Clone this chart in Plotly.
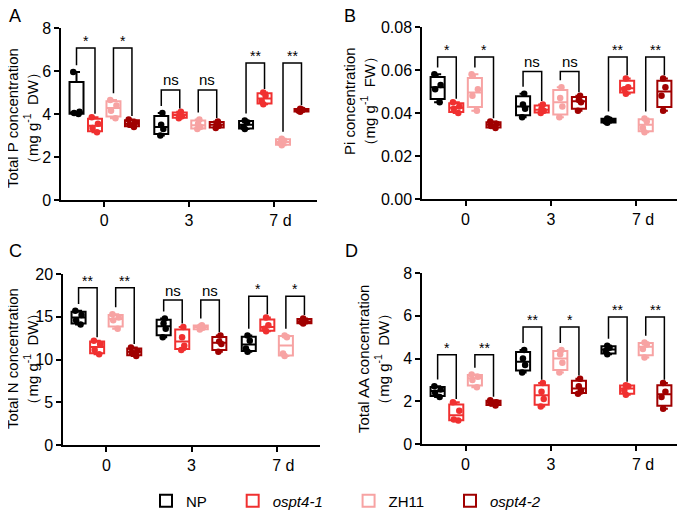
"""Box plots of P, Pi, N and amino acid content in NP / ospt4 / ZH11 lines."""

import numpy as np
import plotly.graph_objects as go

days = ["0", "3", "\u00a0\u00a0\u00a07 d"]
genotypes = ["NP", "<i>ospt4-1</i>", "ZH11", "<i>ospt4-2</i>"]
colors = ["#000000", "#F03030", "#F7A3A3", "#A00000"]

# replicate values per genotype, one list of 4 per day (0, 3, 7 d)
tp_np = [[5.95, 4.10, 4.05, 4.00], [4.05, 3.50, 3.30, 3.00], [3.70, 3.60, 3.40, 3.30]]
tp_ospt41 = [[3.85, 3.55, 3.35, 3.15], [4.10, 4.00, 3.90, 3.80], [5.00, 4.85, 4.60, 4.45]]
tp_zh11 = [[4.65, 4.40, 4.15, 3.80], [3.75, 3.55, 3.40, 3.30], [2.85, 2.75, 2.65, 2.55]]
tp_ospt42 = [[3.75, 3.60, 3.50, 3.40], [3.65, 3.55, 3.45, 3.35], [4.25, 4.20, 4.15, 4.10]]

pi_np = [[0.058, 0.053, 0.051, 0.045], [0.049, 0.044, 0.042, 0.038], [0.0375, 0.037, 0.036, 0.0355]]
pi_ospt41 = [[0.045, 0.043, 0.042, 0.040], [0.044, 0.042, 0.041, 0.040], [0.056, 0.052, 0.051, 0.049]]
pi_zh11 = [[0.058, 0.051, 0.048, 0.041], [0.052, 0.047, 0.043, 0.038], [0.0375, 0.036, 0.033, 0.031]]
pi_ospt42 = [[0.036, 0.035, 0.034, 0.033], [0.048, 0.046, 0.045, 0.041], [0.056, 0.052, 0.048, 0.041]]

tn_np = [[15.7, 15.2, 14.6, 14.1], [14.8, 14.2, 13.6, 12.6], [12.8, 12.2, 11.3, 10.9]]
tn_ospt41 = [[12.2, 11.8, 11.1, 10.6], [13.8, 12.6, 11.6, 11.1], [14.9, 14.0, 13.6, 13.3]]
tn_zh11 = [[15.3, 14.9, 14.6, 13.6], [14.0, 13.9, 13.7, 13.5], [12.8, 12.6, 10.7, 10.4]]
tn_ospt42 = [[11.4, 11.0, 10.8, 10.4], [12.8, 12.1, 11.8, 10.9], [14.8, 14.5, 14.4, 14.2]]

aa_np = [[2.70, 2.55, 2.40, 2.20], [4.40, 4.00, 3.70, 3.35], [4.60, 4.50, 4.35, 4.20]]
aa_ospt41 = [[1.95, 1.55, 1.15, 1.10], [2.85, 2.45, 2.10, 1.75], [2.75, 2.70, 2.50, 2.30]]
aa_zh11 = [[3.25, 3.15, 3.00, 2.65], [4.40, 4.20, 3.80, 3.35], [4.75, 4.65, 4.45, 4.05]]
aa_ospt42 = [[2.05, 1.95, 1.90, 1.80], [3.05, 2.70, 2.50, 2.35], [2.85, 2.45, 2.20, 1.65]]

# significance bracket heights per day, and labels per day for (NP vs ospt4-1, ZH11 vs ospt4-2)
tp_bracket = [7.07, 5.12, 6.37]
tp_sig = [["*", "*"], ["ns", "ns"], ["**", "**"]]
pi_bracket = [0.066, 0.0593, 0.066]
pi_sig = [["*", "*"], ["ns", "ns"], ["**", "**"]]
tn_bracket = [18.4, 16.95, 17.4]
tn_sig = [["**", "**"], ["ns", "ns"], ["*", "*"]]
aa_bracket = [4.18, 5.47, 5.94]
aa_sig = [["*", "**"], ["**", "*"], ["**", "**"]]

FONT = "Liberation Sans, Arial, sans-serif"
# the page body adds an 8 px margin, so the figure is drawn 8 px smaller and
# the layout positions below (window pixels) are shifted by that amount
PAD = 8
W, H = 685 - PAD, 511 - PAD
offsets = [-0.327, -0.109, 0.109, 0.327]


def px_x(p):
    return (p - PAD) / W


def px_y(p):
    return 1 - (p - PAD) / H


panels = [
    dict(letter="A", data=[tp_np, tp_ospt41, tp_zh11, tp_ospt42], top=tp_bracket, sig=tp_sig,
         ymax=8, dtick=2, fmt="d", title="Total P concentration", unit="DW",
         px=(61, 317), py=(28, 200), tx=22, ty=118, lx=15, ly=16),
    dict(letter="B", data=[pi_np, pi_ospt41, pi_zh11, pi_ospt42], top=pi_bracket, sig=pi_sig,
         ymax=0.08, dtick=0.02, fmt=".2f", title="Pi concentration", unit="FW",
         px=(422, 680), py=(27, 199), tx=359, ty=101, lx=350, ly=16),
    dict(letter="C", data=[tn_np, tn_ospt41, tn_zh11, tn_ospt42], top=tn_bracket, sig=tn_sig,
         ymax=20, dtick=5, fmt="d", title="Total N concentration", unit="DW",
         px=(63, 320), py=(274, 445), tx=22, ty=359, lx=15, ly=251),
    dict(letter="D", data=[aa_np, aa_ospt41, aa_zh11, aa_ospt42], top=aa_bracket, sig=aa_sig,
         ymax=8, dtick=2, fmt="d", title="Total AA concentration", unit="DW",
         px=(422, 680), py=(273, 444), tx=373, ty=359, lx=351, ly=251),
]

fig = go.Figure()
annotations = []

for p_i, pan in enumerate(panels):
    sfx = "" if p_i == 0 else str(p_i + 1)
    xref, yref = "x" + sfx, "y" + sfx
    ymax = pan["ymax"]

    for k, vals in enumerate(pan["data"]):
        fig.add_trace(go.Box(
            x=[g + offsets[k] for g in range(3)],
            y=vals,
            q1=[np.percentile(v, 25, method="weibull") for v in vals],
            median=[np.median(v) for v in vals],
            q3=[np.percentile(v, 75, method="weibull") for v in vals],
            lowerfence=[min(v) for v in vals],
            upperfence=[max(v) for v in vals],
            name=genotypes[k] + "\u00a0" * 5, legendgroup=genotypes[k], showlegend=(p_i == 0),
            width=0.165, boxpoints="all", jitter=0.55, pointpos=0,
            fillcolor="white", line=dict(color=colors[k], width=2),
            marker=dict(color=colors[k], size=6.5),
            xaxis=xref, yaxis=yref, hoverinfo="skip",
        ))

    # significance brackets
    bx, by = [], []
    for g in range(3):
        for j, (a, b) in enumerate([(0, 1), (2, 3)]):
            xa, xb = g + offsets[a], g + offsets[b]
            top = pan["top"][g]
            bx += [xa, xa, xb, xb, None]
            by += [max(pan["data"][a][g]) + 0.04 * ymax, top, top,
                   max(pan["data"][b][g]) + 0.02 * ymax, None]
            lab = pan["sig"][g][j]
            annotations.append(dict(
                x=(xa + xb) / 2, y=top, xref=xref, yref=yref, text=lab, showarrow=False,
                yanchor="middle", yshift=10 if lab == "ns" else 7,
                font=dict(size=15 if lab == "ns" else 14, color="black", family=FONT),
            ))
    fig.add_trace(go.Scatter(x=bx, y=by, mode="lines", line=dict(color="black", width=1.5),
                             showlegend=False, hoverinfo="skip", xaxis=xref, yaxis=yref))

    x0, x1 = pan["px"]
    y0, y1 = pan["py"]
    axis_common = dict(showline=True, linecolor="black", linewidth=1.5, ticks="outside",
                       ticklen=5, tickwidth=1.5, tickcolor="black", showgrid=False,
                       zeroline=False, automargin=False,
                       tickfont=dict(size=16, color="black", family=FONT))
    fig.update_layout({
        "xaxis" + sfx: dict(domain=[px_x(x0), px_x(x1)], range=[-0.51, 2.51], anchor=yref,
                            tickvals=[0, 1, 2], ticktext=days, **axis_common),
        "yaxis" + sfx: dict(domain=[px_y(y1), px_y(y0)], range=[0, ymax], anchor=xref,
                            dtick=pan["dtick"], tickformat=pan["fmt"], **axis_common),
    })

    annotations.append(dict(
        x=px_x(pan["tx"]), y=px_y(pan["ty"]), xref="paper", yref="paper", showarrow=False,
        textangle=-90, xanchor="center", yanchor="middle",
        text=pan["title"] + "<br>（mg g<sup>-1</sup>\u00a0 " + pan["unit"] + "）",
        font=dict(size=15, color="black", family=FONT),
    ))
    annotations.append(dict(
        x=px_x(pan["lx"]), y=px_y(pan["ly"]), xref="paper", yref="paper",
        showarrow=False, text=pan["letter"], xanchor="center", yanchor="middle",
        font=dict(size=18, color="black", family=FONT),
    ))

fig.update_layout(
    width=W, height=H, margin=dict(l=0, r=0, t=0, b=0, autoexpand=False),
    plot_bgcolor="white", paper_bgcolor="white",
    font=dict(family=FONT, color="black"),
    boxmode="overlay", annotations=annotations,
    legend=dict(orientation="h", x=px_x(356), xanchor="center", y=px_y(501), yanchor="middle",
                font=dict(size=15, color="black", family=FONT), itemwidth=30),
)

fig.write_html("out.html")
